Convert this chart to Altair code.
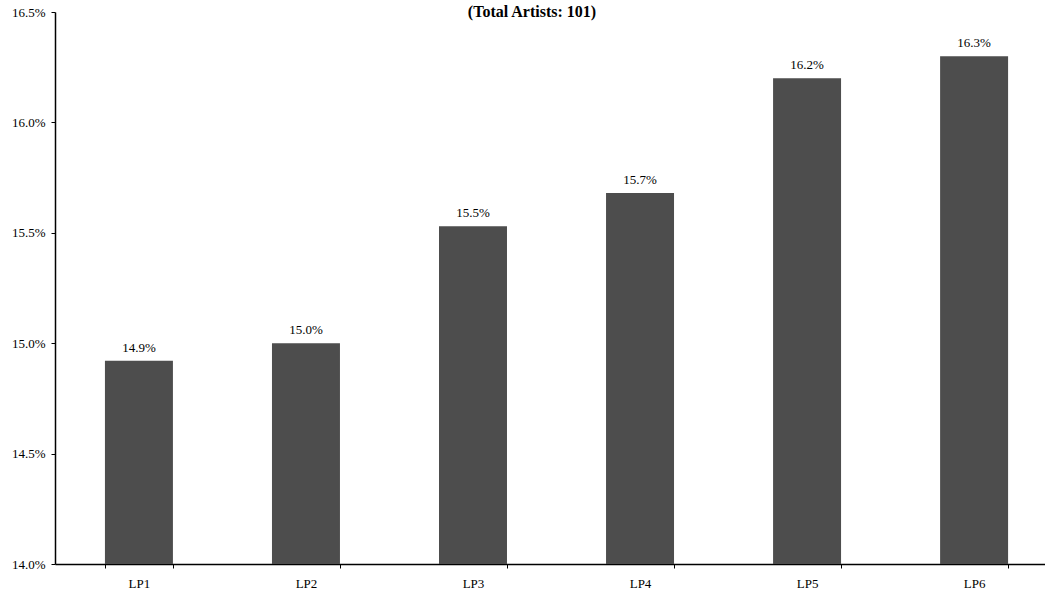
import altair as alt
import pandas as pd

categories = ["LP1", "LP2", "LP3", "LP4", "LP5", "LP6"]
values = [0.1492, 0.1500, 0.1553, 0.1568, 0.1620, 0.1630]
labels = ["14.9%", "15.0%", "15.5%", "15.7%", "16.2%", "16.3%"]
y_ticks = [0.140, 0.145, 0.150, 0.155, 0.160, 0.165]
title_text = "(Total Artists: 101)"

df = pd.DataFrame({"cat": categories, "val": values, "lab": labels})

FONT = "Liberation Serif"

x = alt.X("cat:N", sort=categories, title=None,
          scale=alt.Scale(paddingInner=0.593, paddingOuter=0.26, align=0.575),
          axis=alt.Axis(labelAngle=0, labelFont=FONT, labelFontSize=13, labelColor="black",
                        labelPadding=9, domainColor="black", domainWidth=1.5,
                        tickColor="black", tickSize=4, tickBand="extent"))
y = alt.Y("val:Q", title=None,
          scale=alt.Scale(domain=[0.14, 0.165], nice=False, zero=False),
          axis=alt.Axis(values=y_ticks, format=".1%", grid=False, labelFont=FONT,
                        labelFontSize=13, labelColor="black", labelPadding=6,
                        domainColor="black", domainWidth=1.5, tickColor="black", tickSize=4))

bars = alt.Chart(df).mark_bar(color="#4d4d4d", clip=True).encode(
    x=x, y=y, y2=alt.datum(0.14)
)
text = alt.Chart(df).mark_text(font=FONT, fontSize=13, baseline="bottom", dy=-6, color="black").encode(
    x=alt.X("cat:N", sort=categories), y="val:Q", text="lab:N"
)

chart = alt.layer(bars, text).properties(
    width=990, height=552,
    title=alt.TitleParams(title_text, font=FONT, fontSize=16, fontWeight="bold",
                          color="black", anchor="middle", dx=-18, offset=-14),
    autosize=alt.AutoSizeParams(type="none"),
    padding={"left": 55, "top": 12, "right": 0, "bottom": 28},
    background="white",
).configure_view(stroke=None)

chart.save("out.html", embed_options={"renderer": "svg", "actions": False})
